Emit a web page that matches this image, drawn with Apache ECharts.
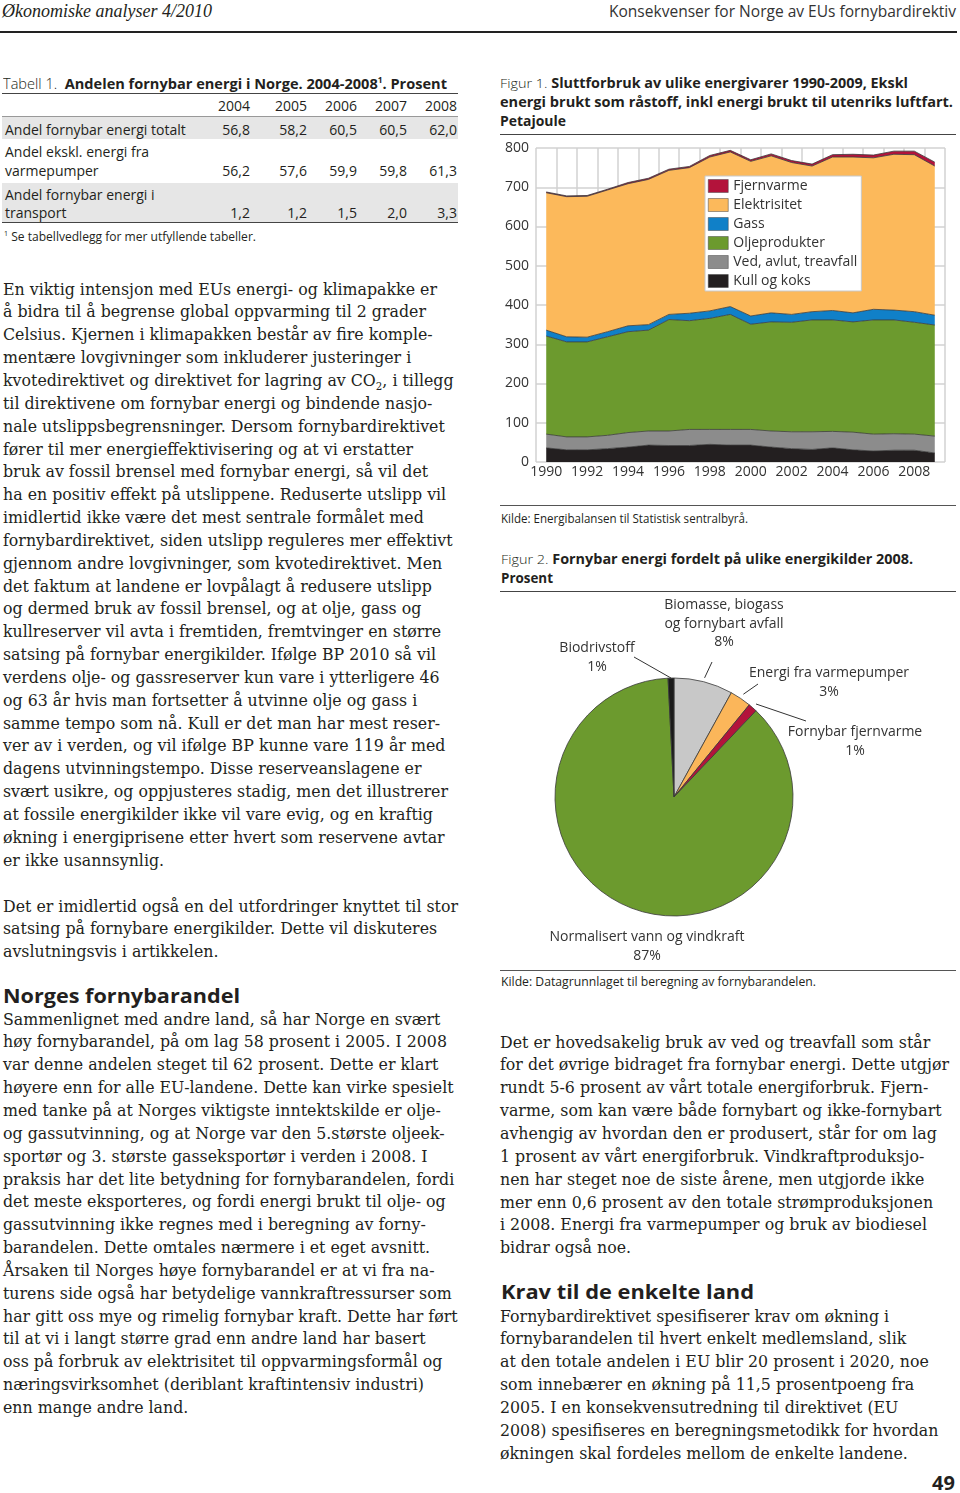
<!DOCTYPE html>
<html><head><meta charset="utf-8">
<script src="https://cdn.jsdelivr.net/npm/echarts/dist/echarts.min.js"></script>
<style>
html,body{margin:0;padding:0;background:#fff;}
#page{position:relative;width:960px;height:1493px;overflow:hidden;font-family:'Open Sans',sans-serif;color:#231f20;}
.a{position:absolute;white-space:nowrap;transform-origin:0 0;}
.body{font-family:'DejaVu Serif',serif;font-size:17px;line-height:22.84px;color:#231f20;}
.rule{position:absolute;height:0;}
.cap{font-size:13.5px;line-height:19px;}
.lt{font-weight:300;}
.bd{font-weight:700;}
.tb{font-size:14px;line-height:19px;}
.num{position:absolute;text-align:right;width:60px;font-size:14px;line-height:19px;}
.hd{font-weight:700;font-size:20px;line-height:24px;}
sub.s{font-size:11px;vertical-align:-4px;line-height:0;}
.bg{position:absolute;background:#e6e6e6;}
</style></head>
<body><div id="page">
<!-- header -->
<div class="a" data-w="210" style="left:2px;top:0px;font-family:'Liberation Serif',serif;font-style:italic;font-size:19px;line-height:22px;">Økonomiske analyser 4/2010</div>
<div class="a" data-w="347" style="left:609px;top:0px;font-size:16px;line-height:22px;color:#333;">Konsekvenser for Norge av EUs fornybardirektiv</div>
<div class="rule" style="left:0;top:30.5px;width:957px;border-top:2.5px solid #222;"></div>

<!-- table -->
<div id="tbl"></div>

<!-- left text -->
<div id="probe" class="a body" style="left:-2000px;top:0;">En viktig intensjon med EUs energi- og klimapakke er</div>
<div class="a body" style="left:3px;top:277.6px;">En viktig intensjon med EUs energi- og klimapakke er<br>å bidra til å begrense global oppvarming til 2 grader<br>Celsius. Kjernen i klimapakken består av fire komple-<br>mentære lovgivninger som inkluderer justeringer i<br>kvotedirektivet og direktivet for lagring av CO<sub class="s">2</sub>, i tillegg<br>til direktivene om fornybar energi og bindende nasjo-<br>nale utslippsbegrensninger. Dersom fornybardirektivet<br>fører til mer energieffektivisering og at vi erstatter<br>bruk av fossil brensel med fornybar energi, så vil det<br>ha en positiv effekt på utslippene. Reduserte utslipp vil<br>imidlertid ikke være det mest sentrale formålet med<br>fornybardirektivet, siden utslipp reguleres mer effektivt<br>gjennom andre lovgivninger, som kvotedirektivet. Men<br>det faktum at landene er lovpålagt å redusere utslipp<br>og dermed bruk av fossil brensel, og at olje, gass og<br>kullreserver vil avta i fremtiden, fremtvinger en større<br>satsing på fornybar energikilder. Ifølge BP 2010 så vil<br>verdens olje- og gassreserver kun vare i ytterligere 46<br>og 63 år hvis man fortsetter å utvinne olje og gass i<br>samme tempo som nå. Kull er det man har mest reser-<br>ver av i verden, og vil ifølge BP kunne vare 119 år med<br>dagens utvinningstempo. Disse reserveanslagene er<br>svært usikre, og oppjusteres stadig, men det illustrerer<br>at fossile energikilder ikke vil vare evig, og en kraftig<br>økning i energiprisene etter hvert som reservene avtar<br>er ikke usannsynlig.</div>
<div class="a body" style="left:3px;top:894.6px;">Det er imidlertid også en del utfordringer knyttet til stor<br>satsing på fornybare energikilder. Dette vil diskuteres<br>avslutningsvis i artikkelen.</div>
<div class="a hd" data-w="237" style="left:3px;top:984px;">Norges fornybarandel</div>
<div class="a body" style="left:3px;top:1007.6px;">Sammenlignet med andre land, så har Norge en svært<br>høy fornybarandel, på om lag 58 prosent i 2005. I 2008<br>var denne andelen steget til 62 prosent. Dette er klart<br>høyere enn for alle EU-landene. Dette kan virke spesielt<br>med tanke på at Norges viktigste inntektskilde er olje-<br>og gassutvinning, og at Norge var den 5.største oljeek-<br>sportør og 3. største gasseksportør i verden i 2008. I<br>praksis har det lite betydning for fornybarandelen, fordi<br>det meste eksporteres, og fordi energi brukt til olje- og<br>gassutvinning ikke regnes med i beregning av forny-<br>barandelen. Dette omtales nærmere i et eget avsnitt.<br>Årsaken til Norges høye fornybarandel er at vi fra na-<br>turens side også har betydelige vannkraftressurser som<br>har gitt oss mye og rimelig fornybar kraft. Dette har ført<br>til at vi i langt større grad enn andre land har basert<br>oss på forbruk av elektrisitet til oppvarmingsformål og<br>næringsvirksomhet (deriblant kraftintensiv industri)<br>enn mange andre land.</div>

<!-- right column: figure 1 -->
<div class="a cap" data-w="408" style="left:500px;top:73.8px;"><span class="lt">Figur 1. </span><span class="bd">Sluttforbruk av ulike energivarer 1990-2009, Ekskl</span></div>
<div class="a cap bd" data-w="453" style="left:500px;top:92.8px;">energi brukt som råstoff, inkl energi brukt til utenriks luftfart.</div>
<div class="a cap bd" data-w="66" style="left:500px;top:111.8px;">Petajoule</div>
<div class="rule" style="left:500px;top:133.5px;width:456px;border-top:1.5px solid #444;"></div>
<div id="chart1" style="position:absolute;left:496px;top:136px;width:464px;height:364px;"></div>
<div class="rule" style="left:500px;top:504.5px;width:456px;border-top:1.5px solid #555;"></div>
<div class="a" data-w="247" style="left:501px;top:510px;font-size:12px;line-height:18px;">Kilde: Energibalansen til Statistisk sentralbyrå.</div>

<!-- figure 2 -->
<div class="a cap" data-w="412" style="left:501px;top:549.5px;"><span class="lt">Figur 2. </span><span class="bd">Fornybar energi fordelt på ulike energikilder 2008.</span></div>
<div class="a cap bd" data-w="52" style="left:501px;top:568.5px;">Prosent</div>
<div class="rule" style="left:500px;top:590.5px;width:456px;border-top:1.5px solid #444;"></div>
<div id="chart2" style="position:absolute;left:496px;top:595px;width:464px;height:372px;"></div>
<div class="rule" style="left:500px;top:969.5px;width:456px;border-top:1.5px solid #555;"></div>
<div class="a" data-w="315" style="left:501px;top:973px;font-size:12px;line-height:18px;">Kilde: Datagrunnlaget til beregning av fornybarandelen.</div>

<!-- right text -->
<div class="a body" style="left:500px;top:1030.6px;">Det er hovedsakelig bruk av ved og treavfall som står<br>for det øvrige bidraget fra fornybar energi. Dette utgjør<br>rundt 5-6 prosent av vårt totale energiforbruk. Fjern-<br>varme, som kan være både fornybart og ikke-fornybart<br>avhengig av hvordan den er produsert, står for om lag<br>1 prosent av vårt energiforbruk. Vindkraftproduksjo-<br>nen har steget noe de siste årene, men utgjorde ikke<br>mer enn 0,6 prosent av den totale strømproduksjonen<br>i 2008. Energi fra varmepumper og bruk av biodiesel<br>bidrar også noe.</div>
<div class="a hd" data-w="253" style="left:501px;top:1280px;">Krav til de enkelte land</div>
<div class="a body" style="left:500px;top:1304.6px;">Fornybardirektivet spesifiserer krav om økning i<br>fornybarandelen til hvert enkelt medlemsland, slik<br>at den totale andelen i EU blir 20 prosent i 2020, noe<br>som innebærer en økning på 11,5 prosentpoeng fra<br>2005. I en konsekvensutredning til direktivet (EU<br>2008) spesifiseres en beregningsmetodikk for hvordan<br>økningen skal fordeles mellom de enkelte landene.</div>
<div class="a" style="left:932px;top:1471px;font-weight:700;font-size:20px;line-height:24px;">49</div>
</div>

<script>
// ---------- data ----------
const years = ['1990','1991','1992','1993','1994','1995','1996','1997','1998','1999','2000','2001','2002','2003','2004','2005','2006','2007','2008','2009'];
const kullOgKoks    = [36,31,31,34,38,43,42,42,45,43,43,38,34,32,36,31,28,30,30,23];
const vedAvlut      = [35,33,33,34,37,36,37,41,38,40,40,41,43,45,42,45,43,42,41,43];
const oljeprodukter = [250,242,242,251,257,257,284,277,283,293,268,278,279,285,284,281,291,290,285,283];
const gass          = [15,13,12,13,15,14,13,19,19,20,21,23,20,21,24,23,27,25,27,25];
const elektrisitet  = [350,357,359,361,362,370,367,371,392,394,394,400,387,371,391,397,386,397,400,380];
const fjernvarme    = [2,2,2,2,3,3,3,3,4,4,4,5,5,5,6,7,7,8,9,10];

const pieNames  = ['Biomasse, biogass\nog fornybart avfall','Energi fra varmepumper','Fornybar fjernvarme','Normalisert vann og vindkraft','Biodrivstoff'];
const pieValues = [8.0, 2.9, 1.2, 87.1, 0.8];

const tableYears = ['2004','2005','2006','2007','2008'];
const rowTotalt  = ['56,8','58,2','60,5','60,5','62,0'];
const rowEkskl   = ['56,2','57,6','59,9','59,8','61,3'];
const rowTransport = ['1,2','1,2','1,5','2,0','3,3'];

// ---------- table ----------
(function(){
  const t = document.getElementById('tbl');
  let h = '';
  h += '<div class="a tb" data-w="444" style="left:3px;top:73.8px;"><span class="lt">Tabell 1.&nbsp; </span><span class="bd">Andelen fornybar energi i Norge. 2004-2008<sup style="font-size:8px;line-height:0;">1</sup>. Prosent</span></div>';
  h += '<div class="rule" style="left:2px;top:92.8px;width:456px;border-top:1.5px solid #444;"></div>';
  h += '<div class="rule" style="left:2px;top:115.8px;width:456px;border-top:1px solid #999;"></div>';
  h += '<div class="bg" style="left:2px;top:117px;width:456px;height:22px;"></div>';
  h += '<div class="bg" style="left:2px;top:183px;width:456px;height:39.5px;"></div>';
  h += '<div class="rule" style="left:2px;top:222px;width:456px;border-top:1.5px solid #444;"></div>';
  const rights = [250,307,357,407,457];
  const put = (arr, cy) => arr.forEach((v,i)=>{ h += '<div class="num" style="left:'+(rights[i]-60)+'px;top:'+(cy-9.5)+'px;">'+v+'</div>'; });
  put(tableYears, 105);
  put(rowTotalt, 129.3);
  put(rowEkskl, 170.7);
  put(rowTransport, 212.7);
  const lab = (s, cy) => { h += '<div class="a tb" style="left:5px;top:'+(cy-9.5)+'px;">'+s+'</div>'; };
  lab('Andel fornybar energi totalt', 129.3);
  lab('Andel ekskl. energi fra', 151.7);
  lab('varmepumper', 170.7);
  lab('Andel fornybar energi i', 194);
  lab('transport', 212.7);
  h += '<div class="a" data-w="252" style="left:4px;top:227.5px;font-size:12px;line-height:18px;"><sup style="font-size:7px;line-height:0;">1</sup> Se tabellvedlegg for mer utfyllende tabeller.</div>';
  t.innerHTML = h;
})();

// ---------- fit text widths ----------
function fitAll(){
  document.querySelectorAll('[data-w]').forEach(el=>{
    el.style.transform='none';
    const nat = el.getBoundingClientRect().width;
    el.style.transform = 'scaleX(' + (parseFloat(el.dataset.w)/nat) + ')';
  });
  const probe = document.getElementById('probe');
  const s = 434 / probe.getBoundingClientRect().width;
  document.querySelectorAll('.body').forEach(el=>{ if(el.id!=='probe') el.style.transform='scaleX('+s+')'; });
}
fitAll();
if (document.fonts && document.fonts.ready) document.fonts.ready.then(fitAll);

// ---------- chart 1 ----------
const FONT = "'Open Sans', sans-serif";
const colors = {
  'Fjernvarme':'#b3133b','Elektrisitet':'#fcb95b','Gass':'#1080c8',
  'Oljeprodukter':'#6c9a2e','Ved, avlut, treavfall':'#8c8c8c','Kull og koks':'#231f20'
};
const stackSeries = [
  ['Kull og koks', kullOgKoks],
  ['Ved, avlut, treavfall', vedAvlut],
  ['Oljeprodukter', oljeprodukter],
  ['Gass', gass],
  ['Elektrisitet', elektrisitet],
  ['Fjernvarme', fjernvarme]
];
const c1 = echarts.init(document.getElementById('chart1'), null, {renderer:'canvas'});
c1.setOption({
  animation:false,
  grid:{left:40,right:15,top:12,bottom:38,containLabel:false},
  legend:{
    orient:'vertical', left:209, top:40,
    backgroundColor:'#fff', borderColor:'#c8c8c8', borderWidth:1,
    padding:[3,4,3,3], itemGap:5, itemWidth:20, itemHeight:13,
    textStyle:{fontFamily:FONT,fontSize:14,color:'#333',padding:[0,0,0,0]},
    selectedMode:false,
    data:['Fjernvarme','Elektrisitet','Gass','Oljeprodukter','Ved, avlut, treavfall','Kull og koks'].map(n=>({
      name:n, icon:'rect', itemStyle:{color:colors[n],borderColor:'#444',borderWidth:0.5}
    }))
  },
  xAxis:{
    type:'category', data:years, boundaryGap:true,
    axisLine:{show:false}, axisTick:{show:false},
    axisLabel:{interval:1,fontFamily:FONT,fontSize:14,color:'#333',margin:3},
    splitLine:{show:true,interval:0,lineStyle:{color:'#d2d2d2',width:1.5}}
  },
  yAxis:{
    type:'value', min:0, max:800, interval:100,
    axisLine:{show:false}, axisTick:{show:false},
    axisLabel:{fontFamily:FONT,fontSize:14,color:'#333',margin:7},
    splitLine:{show:true,lineStyle:{color:'#d2d2d2',width:1.5}}
  },
  series: stackSeries.map(([n,arr])=>({
    name:n, type:'line', stack:'total', data:arr, symbol:'none', smooth:false,
    itemStyle:{color:colors[n]},
    lineStyle:{color:'#3a3a3a',width:0.8},
    areaStyle:{color:colors[n],opacity:1}
  }))
});

// ---------- chart 2 ----------
const pieColors = ['#c8c8c8','#fbb65a','#b3133b','#6c9a2e','#1a1a1a'];
const pieCenter = [178, 202];
const pieSpots = [
  {x:228, y:29,   lx:216, ly:67,  gap:4},
  {x:333, y:87.5, lx:262, ly:89,  gap:5},
  {x:359, y:146.5,lx:310, ly:126, gap:5},
  {x:151, y:351.5},
  {x:101, y:62.5, lx:138, ly:62,  gap:0}
];
const c2 = echarts.init(document.getElementById('chart2'), null, {renderer:'canvas'});
c2.setOption({
  animation:false,
  series:[{
    type:'pie', center:pieCenter, radius:119, startAngle:90, clockwise:true,
    percentPrecision:0, avoidLabelOverlap:false,
    itemStyle:{borderColor:'#3a3a3a',borderWidth:0.8},
    label:{show:true,position:'outside',formatter:'{b}\n{d}%',fontFamily:FONT,fontSize:14,lineHeight:18.5,color:'#333',align:'center'},
    labelLine:{show:true,length:6,length2:6,lineStyle:{color:'#333',width:1}},
    data: pieNames.map((n,i)=>({
      name:n, value:pieValues[i], itemStyle:{color:pieColors[i]},
      labelLine: pieSpots[i].lx==null ? {show:false} : undefined
    })),
    labelLayout:function(p){
      const s = pieSpots[p.dataIndex];
      const out = {x:s.x, y:s.y, align:'center', verticalAlign:'middle'};
      if (s.lx!=null && p.labelLinePoints) {
        const a = p.labelLinePoints[0];
        const dx = a[0]-pieCenter[0], dy = a[1]-pieCenter[1];
        const L = Math.sqrt(dx*dx+dy*dy) || 1;
        const st = [a[0]+dx/L*s.gap, a[1]+dy/L*s.gap];
        out.labelLinePoints = [st, st.slice(), [s.lx, s.ly]];
      }
      return out;
    }
  }]
});
</script>
</body></html>
